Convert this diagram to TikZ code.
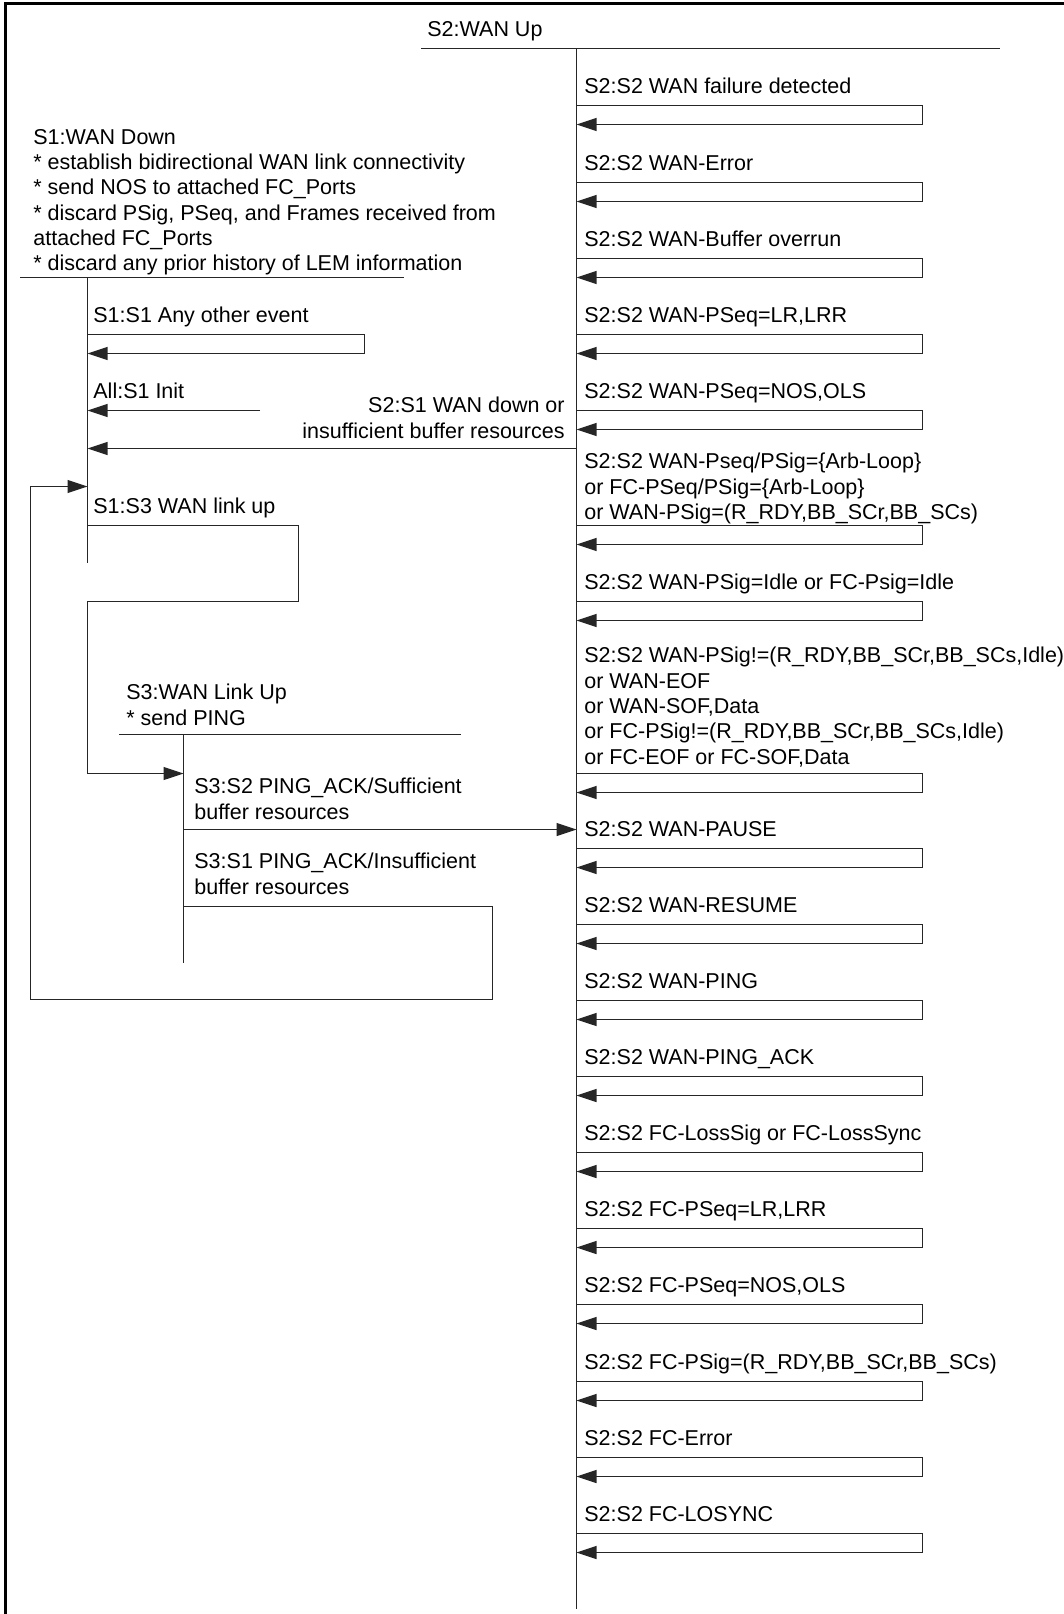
\documentclass[tikz,border=0pt]{standalone}
\usepackage{fontspec}
\setmainfont{Liberation Sans}
\usetikzlibrary{arrows.meta}

\begin{document}
\begin{tikzpicture}[
  x=0.5pt, y=-0.5pt,
  >={Triangle[length=10pt,width=6.5pt]},
  every node/.style={font=\fontsize{10.75}{12.65}\selectfont, inner sep=0pt, anchor=base west},
  life/.style={line width=0.55pt, draw=black!85},
  trans/.style={->, line width=0.55pt, draw=black!85},
  frame/.style={line width=1.5pt}
]
  \useasboundingbox (0,0) rectangle (1064,1614);
  \clip (0,0) rectangle (1064,1614);

  % Outer frame (only left and top edges show)
  \draw[frame] (5,1640) |- (1090,3.5);

  % Lifelines of the three states
  \coordinate (s1a) at (20,277.5);    \coordinate (s1b) at (404,277.5);
  \coordinate (s1top) at (87.5,277.5); \coordinate (s1bot) at (87.5,563);
  \coordinate (s2a) at (421,48.5);    \coordinate (s2b) at (1000,48.5);
  \coordinate (s2top) at (576.5,48.5); \coordinate (s2bot) at (576.5,1609);
  \coordinate (s3a) at (119,734.5);   \coordinate (s3b) at (461,734.5);
  \coordinate (s3top) at (183.5,734.5); \coordinate (s3bot) at (183.5,963);

  \draw[life] (s1a) -- (s1b);  \draw[life] (s1top) -- (s1bot);
  \draw[life] (s2a) -- (s2b);  \draw[life] (s2top) -- (s2bot);
  \draw[life] (s3a) -- (s3b);  \draw[life] (s3top) -- (s3bot);

  % State titles
  \node (s2name) at (427,36) {S2:WAN Up};
  \node[align=left] (s1name) at (33,270.7) {S1:WAN Down\\
    * establish bidirectional WAN link connectivity\\
    * send NOS to attached FC\_Ports\\
    * discard PSig, PSeq, and Frames received from\\
    attached FC\_Ports\\
    * discard any prior history of LEM information};
  \node[align=left] (s3name) at (126,725) {S3:WAN Link Up\\* send PING};

  % S2 self transitions (single line)
  \foreach \i/\t/\lab in {1/105.5/WAN failure detected, 2/182.5/WAN-Error,
      3/258.5/WAN-Buffer overrun, 4/334.5/{WAN-PSeq=LR,LRR},
      5/410.5/{WAN-PSeq=NOS,OLS}, 7/601.5/WAN-PSig=Idle or FC-Psig=Idle,
      9/848.5/WAN-PAUSE, 10/924.5/WAN-RESUME, 11/1000.5/WAN-PING,
      12/1076.5/WAN-PING\_ACK, 13/1152.5/FC-LossSig or FC-LossSync,
      14/1228.5/{FC-PSeq=LR,LRR}, 15/1304.5/{FC-PSeq=NOS,OLS},
      16/1381.5/{FC-PSig=(R\_RDY,BB\_SCr,BB\_SCs)}, 17/1457.5/FC-Error,
      18/1533.5/FC-LOSYNC}{
    \coordinate (l\i) at (576.5,\t);
    \coordinate (m\i) at (922.5,\t+19);
    \draw[trans] (l\i) -| (m\i) -- (l\i |- m\i);
    \node (t\i) at (584,\t-12.5) {S2:S2 \lab};
  }

  % S2 self transitions (several lines)
  \coordinate (l6) at (576.5,525.5);  \coordinate (m6) at (922.5,544.5);
  \draw[trans] (l6) -| (m6) -- (l6 |- m6);
  \node[align=left] (t6) at (584,519.5) {S2:S2 WAN-Pseq/PSig=\{Arb-Loop\}\\
    or FC-PSeq/PSig=\{Arb-Loop\}\\
    or WAN-PSig=(R\_RDY,BB\_SCr,BB\_SCs)};

  \coordinate (l8) at (576.5,773.5);  \coordinate (m8) at (922.5,792.5);
  \draw[trans] (l8) -| (m8) -- (l8 |- m8);
  \node[align=left] (t8) at (584,764) {S2:S2 WAN-PSig!=(R\_RDY,BB\_SCr,BB\_SCs,Idle)\\
    or WAN-EOF\\
    or WAN-SOF,Data\\
    or FC-PSig!=(R\_RDY,BB\_SCr,BB\_SCs,Idle)\\
    or FC-EOF or FC-SOF,Data};

  % S1 transitions
  \coordinate (a1) at (87.5,334.5);  \coordinate (a2) at (364.5,353.5);
  \draw[trans] (a1) -| (a2) -- (a1 |- a2);
  \node (t11) at (93,322) {S1:S1 Any other event};

  \coordinate (init) at (260,410.5);
  \draw[trans] (init) -- (init -| s1top);
  \node (tinit) at (93,398) {All:S1 Init};

  \coordinate (down) at (576.5,448.5);
  \draw[trans] (down) -- (down -| s1top);
  \node[align=right, anchor=base east] (t21) at (565,438) {S2:S1 WAN down or\\insufficient buffer resources};

  \coordinate (b1) at (87.5,525.5);  \coordinate (b2) at (298.5,601.5);
  \coordinate (b3) at (87.5,773.5);
  \draw[trans] (b1) -| (b2) -| (b1 |- b2) -- (b3) -- (b3 -| s3top);
  \node (t13) at (93,513) {S1:S3 WAN link up};

  % S3 transitions
  \coordinate (c1) at (183.5,829.5);
  \draw[trans] (c1) -- (c1 -| s2top);
  \node[align=left] (t32) at (194,819) {S3:S2 PING\_ACK/Sufficient\\buffer resources};

  \coordinate (d1) at (183.5,906.5);  \coordinate (d2) at (492.5,999.5);
  \coordinate (d3) at (30.5,486.5);
  \draw[trans] (d1) -| (d2) -| (d3) -- (d3 -| s1top);
  \node[align=left] (t31) at (194,894) {S3:S1 PING\_ACK/Insufficient\\buffer resources};
\end{tikzpicture}
\end{document}
